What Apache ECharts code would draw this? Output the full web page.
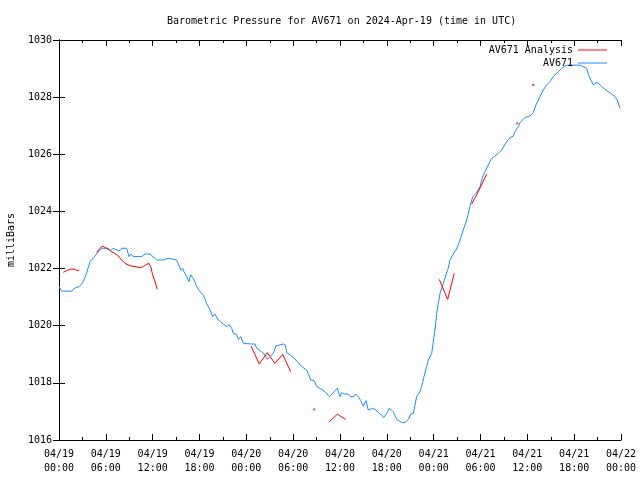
<!DOCTYPE html>
<html>
<head>
<meta charset="utf-8">
<script src="https://cdn.jsdelivr.net/npm/echarts@6/dist/echarts.min.js"></script>
<style>html,body{margin:0;padding:0;background:#fff}#c{width:640px;height:480px}</style>
</head>
<body>
<div id="c"></div>
<script>
// Hours since 2024-04-19 00:00 UTC
var obsHours = [0,0.35,1.6,2.05,2.6,3.11,3.55,3.97,4.4,4.74,5.03,5.47,5.9,6.28,6.62,6.95,7.39,7.81,8.03,8.67,8.97,9.22,9.52,10.6,11.02,11.66,12.52,13.37,14.0,14.22,15.08,15.28,15.59,15.85,16.01,16.36,16.65,16.87,17.2,17.64,18.06,18.49,18.92,19.35,19.69,19.98,20.41,21.05,21.48,21.82,22.12,22.33,22.76,22.97,23.28,23.61,24.69,25.11,25.33,25.97,26.39,26.69,27.03,27.45,27.8,28.31,28.73,28.99,29.17,29.59,30.02,30.66,31.09,31.73,31.94,32.24,32.67,33.01,33.65,34.08,34.63,35.14,35.65,36.0,36.22,36.51,37.06,37.28,37.79,38.01,38.34,38.65,38.98,39.33,39.62,40.19,40.61,41.03,41.63,41.98,42.31,42.83,43.26,43.9,44.32,44.75,45.06,45.39,45.61,45.82,46.25,46.46,46.76,47.1,47.31,47.75,47.95,48.17,48.39,48.59,48.81,49.23,49.58,49.87,50.09,50.44,50.86,51.15,51.37,51.79,52.23,52.65,53.0,53.42,53.93,54.28,54.57,55.0,55.43,55.85,56.28,56.71,57.01,57.35,57.69,58.2,58.42,58.71,58.97,59.06,59.7,60.34,60.76,61.11,61.62,62.04,62.48,62.9,63.32,63.96,64.4,64.82,65.12,66.74,66.96,67.6,67.93,68.45,68.79,69.09,69.52,69.95,70.37,70.8,71.23,71.53,71.87];
var obsMbar = [1021.37,1021.21,1021.21,1021.32,1021.37,1021.54,1021.85,1022.24,1022.37,1022.48,1022.59,1022.71,1022.71,1022.72,1022.63,1022.71,1022.65,1022.63,1022.71,1022.71,1022.42,1022.51,1022.42,1022.42,1022.51,1022.51,1022.30,1022.30,1022.36,1022.30,1022.30,1022.18,1021.95,1022.01,1021.89,1021.72,1021.54,1021.78,1021.66,1021.37,1021.19,1021.08,1020.78,1020.55,1020.32,1020.41,1020.20,1020.06,1019.97,1020.03,1019.91,1019.73,1019.70,1019.52,1019.62,1019.38,1019.36,1019.36,1019.21,1019.09,1018.98,1018.82,1018.92,1019.03,1019.29,1019.33,1019.36,1019.33,1019.06,1018.98,1018.89,1018.71,1018.57,1018.45,1018.33,1018.10,1018.08,1017.87,1017.77,1017.69,1017.52,1017.66,1017.81,1017.52,1017.66,1017.61,1017.61,1017.52,1017.52,1017.61,1017.52,1017.38,1017.19,1017.38,1017.05,1017.11,1017.05,1016.93,1016.79,1016.93,1017.11,1016.99,1016.72,1016.61,1016.61,1016.72,1016.91,1016.93,1017.23,1017.52,1017.69,1017.87,1018.22,1018.57,1018.80,1019.03,1019.44,1019.85,1020.43,1020.78,1021.13,1021.48,1021.78,1022.01,1022.30,1022.48,1022.65,1022.83,1023.00,1023.35,1023.70,1024.17,1024.52,1024.63,1024.87,1025.22,1025.39,1025.63,1025.86,1025.94,1026.03,1026.15,1026.29,1026.44,1026.56,1026.64,1026.79,1026.91,1027.03,1027.11,1027.29,1027.34,1027.46,1027.73,1028.02,1028.25,1028.43,1028.54,1028.72,1028.89,1029.01,1029.09,1029.12,1029.12,1029.07,1029.01,1028.72,1028.43,1028.51,1028.49,1028.37,1028.28,1028.19,1028.11,1028.02,1027.90,1027.61];

// Analysis (null = gap)
var anaHours = [0.55,0.99,1.5,1.92,2.27,2.6,3.5,4.83,5.25,5.6,5.89,6.32,6.75,7.17,7.6,8.03,8.46,9.1,9.74,10.38,10.8,11.24,11.53,11.75,12.0,12.3,12.6,18,24.6,25.66,26.68,27.67,28.66,29.68,31,32.7,33.5,34.63,35.65,36.73,42,48.72,49.79,50.64,51.7,52.87,53.72,54.79,56.5,58.71,59.7,60.76];
var anaMbar = [1021.87,1021.93,1021.98,1021.98,1021.94,1021.94,null,1022.56,1022.71,1022.79,1022.74,1022.67,1022.59,1022.53,1022.44,1022.30,1022.18,1022.10,1022.07,1022.03,1022.07,1022.15,1022.18,1022.07,1021.78,1021.54,1021.27,null,1019.29,1018.66,1019.06,1018.68,1019.00,1018.39,null,1017.07,null,1016.64,1016.90,1016.72,null,1021.62,1020.92,1021.83,null,1024.26,1024.69,1025.31,null,1027.08,null,1028.43];

var tickDates = ['04/19','04/19','04/19','04/19','04/20','04/20','04/20','04/20','04/21','04/21','04/21','04/21','04/22'];
var tickTimes = ['00:00','06:00','12:00','18:00','00:00','06:00','12:00','18:00','00:00','06:00','12:00','18:00','00:00'];

var obsData = obsHours.map(function(h,i){return [h, obsMbar[i]];});
var anaData = anaHours.map(function(h,i){return [h, anaMbar[i] === null ? '-' : anaMbar[i]];});
var anaDots = [];
anaHours.forEach(function(h,i){
  var v = anaMbar[i];
  if (v === null) return;
  var prev = i > 0 ? anaMbar[i-1] : null;
  var next = i < anaMbar.length-1 ? anaMbar[i+1] : null;
  if (prev === null && next === null) anaDots.push([h, v]);
});

var FONT = 'DejaVu Sans Mono';
var RED = '#ff0000', BLUE = '#1e8cff';

var chart = echarts.init(document.getElementById('c'), null, {renderer:'canvas'});
chart.setOption({
  animation: false,
  backgroundColor: '#ffffff',
  textStyle: {fontFamily: FONT, color: '#000'},
  title: {
    text: 'Barometric Pressure for AV671 on 2024-Apr-19 (time in UTC)',
    left: 162, top: 11,
    textStyle: {fontFamily: FONT, fontSize: 10, fontWeight: 'normal', color: '#000'}
  },
  legend: {
    orient: 'vertical', right: 28, top: 39, align: 'right',
    icon: 'rect', itemWidth: 29, itemHeight: 1, itemGap: 1,
    data: ['AV671 Analysis', 'AV671'],
    textStyle: {fontFamily: FONT, fontSize: 10, color: '#000', lineHeight: 12}
  },
  grid: {left: 59, right: 19, top: 40, bottom: 40, containLabel: false, outerBoundsMode: 'none'},
  xAxis: [{
    type: 'value', min: 0, max: 72, interval: 6, position: 'bottom',
    axisLine: {show: true, lineStyle: {color: '#000', width: 1}},
    axisTick: {show: true, inside: true, length: 6, lineStyle: {color: '#000'}},
    minorTick: {show: true, splitNumber: 2, length: 3, lineStyle: {color: '#000'}},
    splitLine: {show: false},
    axisLabel: {
      show: true, margin: 7, fontFamily: FONT, fontSize: 10, color: '#000', lineHeight: 14,
      showMinLabel: true, showMaxLabel: true,
      formatter: function(v){ var k = Math.round(v/6); return tickDates[k] + '\n' + tickTimes[k]; }
    }
  }, {
    type: 'value', min: 0, max: 72, interval: 6, position: 'top',
    axisLine: {show: true, lineStyle: {color: '#000', width: 1}},
    axisTick: {show: true, inside: true, length: 6, lineStyle: {color: '#000'}},
    minorTick: {show: true, splitNumber: 2, length: 3, lineStyle: {color: '#000'}},
    splitLine: {show: false},
    axisLabel: {show: false}
  }],
  yAxis: [{
    type: 'value', min: 1016, max: 1030, interval: 2, position: 'left',
    name: 'milliBars', nameLocation: 'middle', nameRotate: 90, nameGap: 43,
    nameTextStyle: {fontFamily: FONT, fontSize: 10, color: '#000'},
    axisLine: {show: true, lineStyle: {color: '#000', width: 1}},
    axisTick: {show: true, inside: true, length: 6, lineStyle: {color: '#000'}},
    splitLine: {show: false},
    axisLabel: {margin: 7, fontFamily: FONT, fontSize: 10, color: '#000',
      formatter: function(v){ return String(v); }}
  }, {
    type: 'value', min: 1016, max: 1030, interval: 2, position: 'right',
    axisLine: {show: true, lineStyle: {color: '#000', width: 1}},
    axisTick: {show: true, inside: true, length: 6, lineStyle: {color: '#000'}},
    splitLine: {show: false},
    axisLabel: {show: false}
  }],
  series: [{
    name: 'AV671 Analysis', type: 'line', data: anaData, xAxisIndex: 0, yAxisIndex: 0,
    symbol: 'none', connectNulls: false, z: 3,
    lineStyle: {color: RED, width: 1}, itemStyle: {color: RED}
  }, {
    name: 'AV671', type: 'line', data: obsData, xAxisIndex: 0, yAxisIndex: 0,
    symbol: 'none', z: 2,
    lineStyle: {color: BLUE, width: 1}, itemStyle: {color: BLUE}
  }, {
    name: 'anaDots', type: 'scatter', data: anaDots, symbolSize: 2, symbol: 'rect',
    itemStyle: {color: RED}, z: 4
  }]
});
</script>
</body>
</html>
